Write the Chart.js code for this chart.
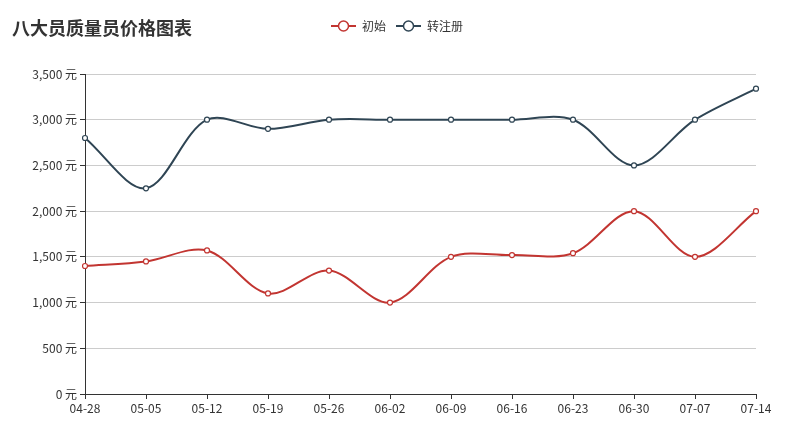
<!DOCTYPE html>
<html><head><meta charset="utf-8">
<script src="https://cdn.jsdelivr.net/npm/chart.js@4.4.1/dist/chart.umd.min.js"></script>
<style>
html,body{margin:0;padding:0;background:#fff;}
#wrap{position:relative;width:785px;height:426px;}
#title{position:absolute;left:12px;top:14px;font:bold 18px "Noto Sans CJK SC",sans-serif;color:#333;}
canvas{position:absolute;left:0;top:0;}
</style></head>
<body><div id="wrap"><canvas id="c" width="785" height="426"></canvas><div id="title">八大员质量员价格图表</div></div>
<script>
const categories = ['04-28','05-05','05-12','05-19','05-26','06-02','06-09','06-16','06-23','06-30','07-07','07-14'];
const seriesNames = ['初始','转注册'];
const initialValues = [1400,1450,1570,1100,1350,1000,1500,1520,1540,2000,1500,2000];
const transferValues = [2800,2250,3000,2900,3000,3000,3000,3000,3000,2500,3000,3340];
const colors = ['#c23531','#2f4554'];

function legendIcon(color){
  const cv=document.createElement('canvas');cv.width=25;cv.height=14;
  const x=cv.getContext('2d');
  x.strokeStyle=color;x.lineWidth=2;x.beginPath();x.moveTo(0,7);x.lineTo(25,7);x.stroke();
  x.beginPath();x.arc(12.5,7,5,0,Math.PI*2);x.fillStyle='#fff';x.fill();x.lineWidth=1.5;x.stroke();
  return cv;
}
const icons = colors.map(legendIcon);
const font = "'Noto Sans CJK SC', sans-serif";

const legendShift = {id:'legendShift',afterLayout(chart){
  const l=chart.legend; if(!l) return;
  l.top-=32; l.bottom-=32; l.left+=19; l.right+=19;
}};

new Chart(document.getElementById('c'),{
  type:'line',
  data:{labels:categories,datasets:[
    {label:seriesNames[0],data:initialValues,borderColor:colors[0],backgroundColor:'#fff',borderWidth:2,tension:0.33,pointRadius:2.5,pointBorderWidth:1.2,pointBackgroundColor:'#fff',pointBorderColor:colors[0]},
    {label:seriesNames[1],data:transferValues,borderColor:colors[1],backgroundColor:'#fff',borderWidth:2,tension:0.33,pointRadius:2.5,pointBorderWidth:1.2,pointBackgroundColor:'#fff',pointBorderColor:colors[1]}
  ]},
  options:{
    responsive:false,animation:false,
    layout:{padding:{left:0,right:29,top:42,bottom:0}},
    plugins:{
      tooltip:{enabled:false},
      legend:{display:true,position:'top',align:'center',
        labels:{usePointStyle:true,pointStyleWidth:25,boxHeight:12,padding:10,color:'#333',font:{family:font,size:12},
          generateLabels:(chart)=>chart.data.datasets.map((ds,i)=>({text:ds.label,pointStyle:icons[i],fillStyle:'#fff',strokeStyle:colors[i],lineWidth:0,hidden:false,datasetIndex:i,fontColor:'#333'}))
        }}
    },
    scales:{
      x:{offset:false,
        grid:{display:true,drawOnChartArea:false,drawTicks:true,tickLength:5,tickColor:'#333',color:'#333'},
        border:{display:true,color:'#333',width:1},
        ticks:{color:'#333',font:{family:font,size:12},padding:2,maxRotation:0,autoSkip:false},
        afterFit:(s)=>{s.height=32;}
      },
      y:{min:0,max:3500,
        grid:{color:'#ccc',drawTicks:true,tickLength:5,tickColor:'#333'},
        border:{display:true,color:'#333',width:1},
        ticks:{stepSize:500,color:'#333',font:{family:font,size:12},padding:3,
          callback:(v)=>v.toLocaleString('en-US')+' 元'},
        afterFit:(s)=>{s.width=85;}
      }
    }
  },
  plugins:[legendShift]
});
</script></body></html>
